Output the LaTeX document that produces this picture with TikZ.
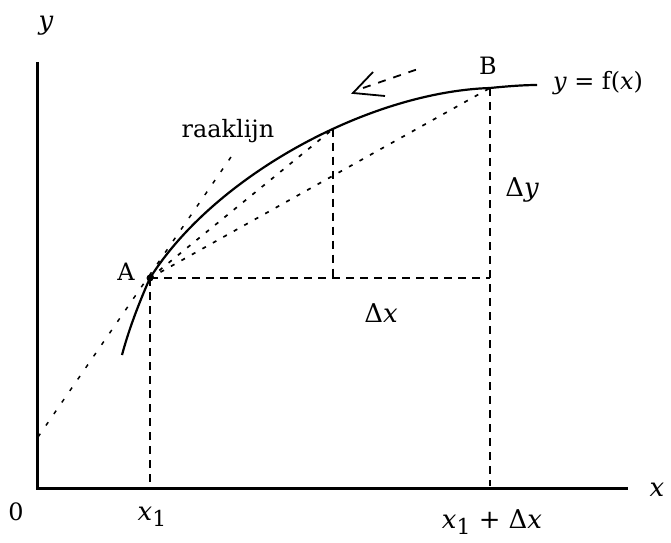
\documentclass[tikz,border=0pt]{standalone}
\usepackage{fontspec}
\setmainfont{DejaVu Serif}
\newcommand{\subone}{\raisebox{-6bp}{\upshape\fontsize{22}{24}\selectfont 1}}
\begin{document}
\begin{tikzpicture}[x=1bp,y=-1bp,
  axis/.style={line width=3bp},
  curve/.style={line width=2.2bp},
  guide/.style={line width=2bp, dash pattern=on 8bp off 6bp},
  secant/.style={line width=1.7bp, dash pattern=on 4bp off 8bp},
  lbl/.style={font=\fontsize{24}{26}\selectfont, inner sep=0pt},
  sym/.style={font=\fontsize{26}{28}\selectfont\itshape, inner sep=0pt}]
\useasboundingbox (0,0) rectangle (671,543);
% axes
\coordinate (O) at (37,488);
\coordinate (Ytop) at (37,62);
\coordinate (Xend) at (628,488);
\draw[axis] (Ytop) -- (O) -- (Xend);
% key points
\coordinate (S) at (122,355);
\coordinate (A) at (150,278);
\coordinate (B) at (490,88);
\coordinate (E) at (537,85);
% curve y = f(x)
\draw[curve] (S) .. controls (130,325) and (142,296) .. (A)
  .. controls (215,175) and (370,92) .. coordinate[pos=0.59] (M) (B)
  .. controls (510,86) and (525,85) .. (E);
\coordinate (C) at (B |- A);
\coordinate (Mb) at (M |- A);
\coordinate (X1) at (150,486);
\coordinate (X2) at (490,486);
\coordinate (T1) at (38,437);
\coordinate (T2) at (231,157);
% guides
\draw[guide] (A) -- (C);
\draw[guide] (M) -- (Mb);
\draw[guide] (B) -- (X2);
\draw[guide] (A) -- (X1);
% secants and tangent
\draw[secant] (A) -- (B);
\draw[secant] (A) -- (M);
\draw[secant, line width=1.5bp, dash pattern=on 4bp off 10bp] (T1) -- (T2);
% movement arrow
\coordinate (arTip) at (353,93);
\coordinate (arUp) at (373,72);
\coordinate (arLow) at (385,96);
\coordinate (arTail) at (421,68);
\coordinate (arStart) at (363,88);
\draw[line width=1.8bp] (arUp) -- (arTip) -- (arLow);
\draw[line width=1.8bp, dash pattern=on 8bp off 8bp] (arStart) -- (arTail);
\fill (A) circle (3.5bp);
% labels
\node[sym] (ylab) at (46,26) {y};
\node[sym] (xlab) at (657,490) {x};
\node[lbl] (zero) at (16,512) {0};
\node[sym, anchor=base] (x1lab) at (152,520) {x\subone};
\node[sym, anchor=base] (x1dx) at (492,528) {x\subone\ \upshape + Δ\itshape x};
\node[lbl] (Alab) at (126,272) {A};
\node[lbl] (Blab) at (488,66) {B};
\node[lbl] (raak) at (228,131) {raaklijn};
\node[lbl, anchor=base west] (flab) at (553,90) {\itshape y\upshape\ = f(\itshape x\upshape)};
\node[sym] (dy) at (522,190) {\upshape Δ\itshape y};
\node[sym] (dx) at (381,313) {\upshape Δ\itshape x};
\end{tikzpicture}
\end{document}
